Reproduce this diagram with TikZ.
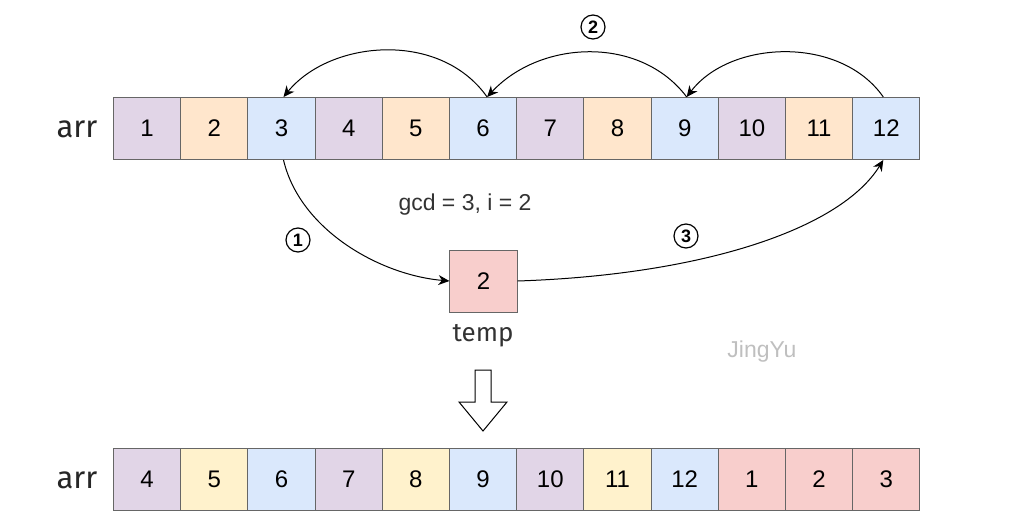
\documentclass[tikz,border=0pt]{standalone}
\usepackage{fontspec}
\setmainfont{Liberation Sans}
\newfontfamily\comic{Fira Sans}
\usetikzlibrary{arrows.meta}
\definecolor{pu}{HTML}{E1D5E7}
\definecolor{or}{HTML}{FFE6CC}
\definecolor{bl}{HTML}{DAE8FC}
\definecolor{pk}{HTML}{F8CECC}
\definecolor{ye}{HTML}{FFF2CC}
\begin{document}
\begin{tikzpicture}[x=1pt,y=-1pt,
  cell/.style={draw=black!60,line width=1pt,minimum width=67.2pt,minimum height=62pt,inner sep=0pt,font=\fontsize{24}{24}\selectfont,anchor=north west},
  arc/.style={-{Stealth[length=11pt,width=10pt]},line width=1pt},
  num/.style={circle,draw,line width=1.2pt,inner sep=0pt,minimum size=24pt,font=\bfseries\fontsize{18}{18}\selectfont},
  lbl/.style={font=\comic\fontsize{31}{31}\selectfont,text=black!85}]
\useasboundingbox (0,0) rectangle (1028,519);
\foreach \i/\c in {1/pu,2/or,3/bl,4/pu,5/or,6/bl,7/pu,8/or,9/bl,10/pu,11/or,12/bl}{
  \node[cell,fill=\c] (t\i) at ({113+(\i-1)*67.2},97) {\i};}
\foreach \i/\v/\c in {1/4/pu,2/5/ye,3/6/bl,4/7/pu,5/8/ye,6/9/bl,7/10/pu,8/11/ye,9/12/bl,10/1/pk,11/2/pk,12/3/pk}{
  \node[cell,fill=\c] (b\i) at ({113+(\i-1)*67.2},448) {\v};}
\node[lbl] (a1) at (77,129) {arr};
\node[lbl] (a2) at (77,480) {arr};
\node[cell,fill=pk,anchor=center] (tmp) at (483.5,281) {2};
\node[font=\comic\fontsize{26}{26}\selectfont,text=black!80] (tl) at (483,336) {temp};
\node[font=\fontsize{23}{23}\selectfont,text=black!80] (g) at (465,205) {gcd = 3, i = 2};
\node[font=\fontsize{23}{23}\selectfont,text=black!25] (j) at (762,352) {JingYu};
\draw[arc] ([xshift=4pt]t6.north) .. controls (440,30) and (330,40) .. ([xshift=2pt]t3.north);
\draw[arc] ([xshift=2pt]t9.north) .. controls (640,35) and (540,40) .. ([xshift=4pt]t6.north);
\draw[arc] ([xshift=-3pt]t12.north) .. controls (840,35) and (730,40) .. ([xshift=2pt]t9.north);
\draw[arc] ([xshift=2pt]t3.south) .. controls (300,230) and (380,275) .. (tmp.west);
\draw[arc] (tmp.east) .. controls (700,275) and (840,230) .. ([xshift=-3pt]t12.south);
\node[num] (n1) at (298,240) {1};
\node[num] (n2) at (593,27) {2};
\node[num] (n3) at (686,236) {3};
\draw[line width=1pt,fill=white] (475,370) -- (491,370) -- (491,402) -- (507,402) -- (483,431) -- (459,402) -- (475,402) -- cycle;
\end{tikzpicture}
\end{document}
